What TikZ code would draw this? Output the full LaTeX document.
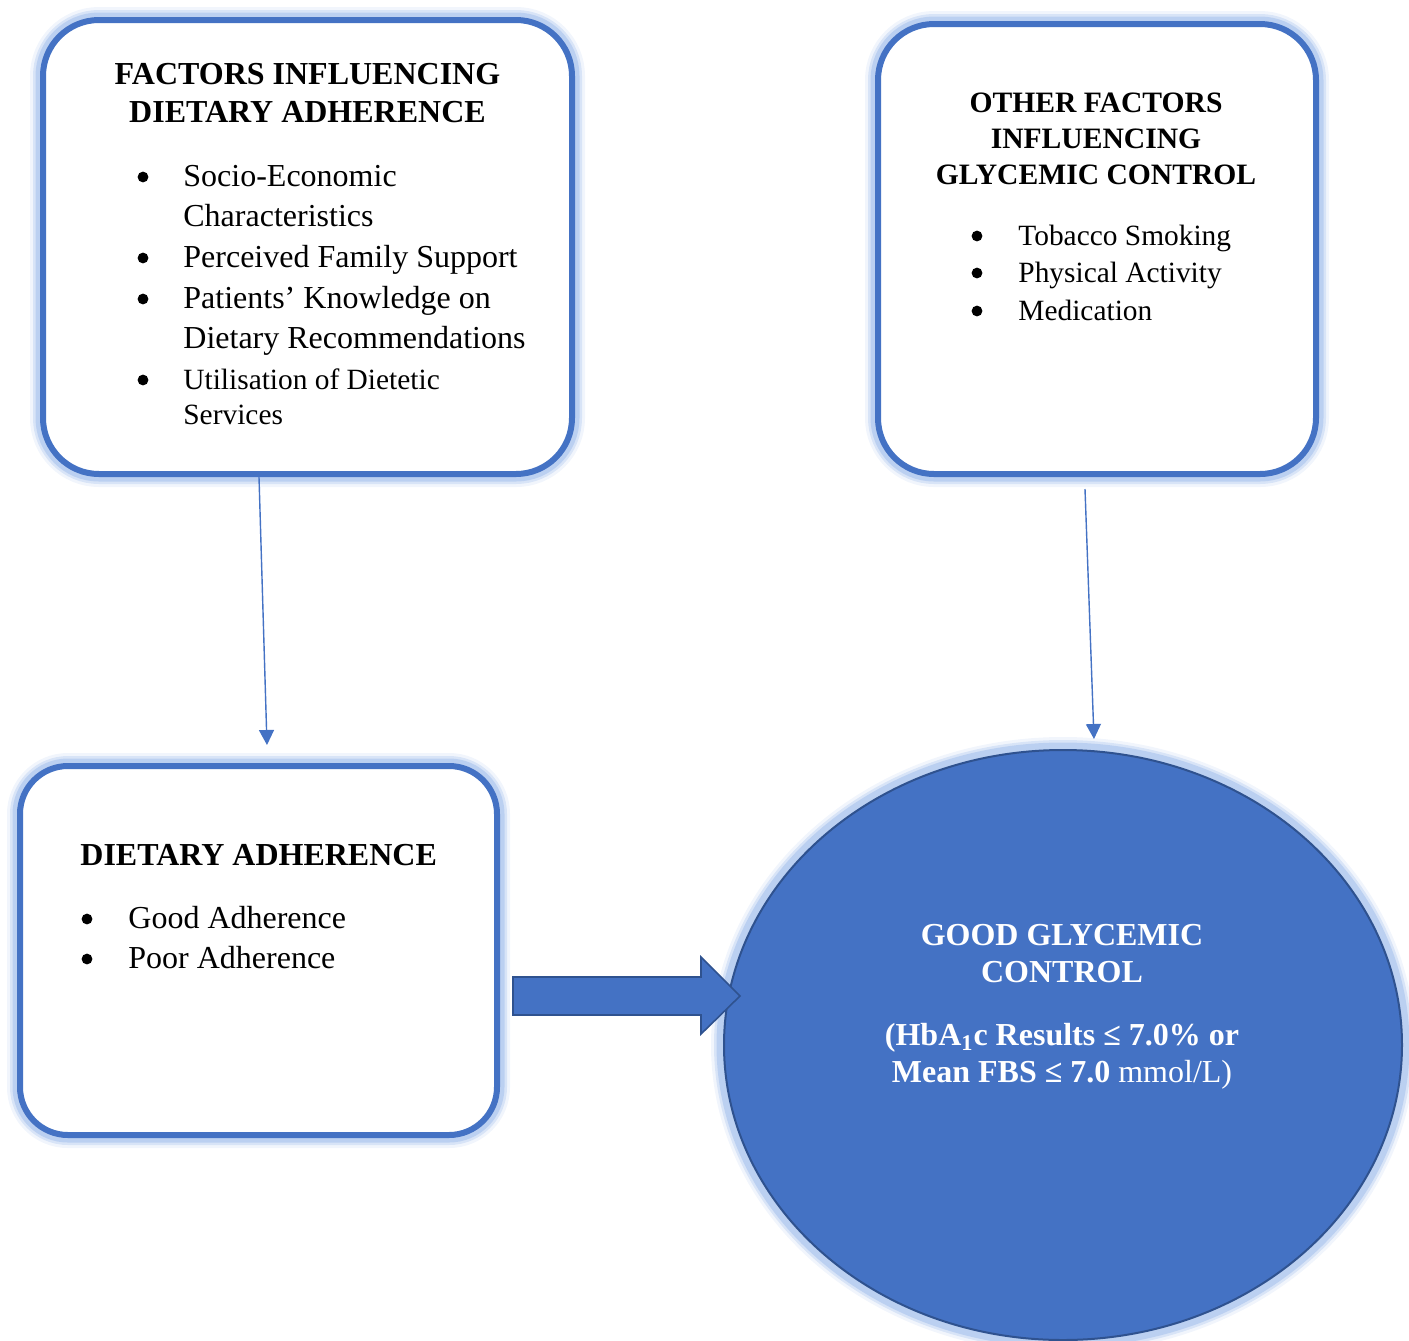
\documentclass[tikz,border=0pt]{standalone}
\usepackage{fontspec}
\setmainfont{Liberation Serif}
\usepackage{tikz}
\usetikzlibrary{positioning}
\usetikzlibrary{shapes.geometric}
\usetikzlibrary{arrows.meta}

\definecolor{wordblue}{HTML}{4472C4}
\definecolor{darkblue}{HTML}{2F528F}
\definecolor{glowblue}{HTML}{9FBCEB}

\tikzset{
	glow/.style={preaction={draw=glowblue,line width=13pt,opacity=0.15},
		preaction={draw=glowblue,line width=10pt,opacity=0.3},
		preaction={draw=glowblue,line width=7.5pt,opacity=0.5}},
	roundbox/.style={glow,draw=wordblue,line width=3pt,fill=white,inner sep=0pt},
	head/.style={font=\fontsize{16}{19}\selectfont\bfseries,anchor=base,inner sep=0pt},
	item/.style={font=\fontsize{16}{20}\selectfont,anchor=base west,inner sep=0pt},
	small/.style={font=\fontsize{14.7}{18}\selectfont},
	smallhead/.style={head,font=\fontsize{14.8}{18}\selectfont\bfseries},
	thinarrow/.style={draw=wordblue,line width=0.7pt,-{Triangle[width=7.5pt,length=7.5pt]}},
	bigarrow/.style={draw=darkblue,line width=0.8pt,fill=wordblue,line join=miter}
}

\begin{document}
\begin{tikzpicture}[x=0.5pt,y=-0.5pt]
		\useasboundingbox (0,0) rectangle (1409,1340);
		% boxes
		\node [roundbox,rounded corners=28pt,minimum width=264.5pt,minimum height=227pt] (factors) at (307.5,247) {};
		\node [roundbox,rounded corners=28pt,minimum width=219pt,minimum height=225pt] (other) at (1097,249) {};
		\node [roundbox,rounded corners=24pt,minimum width=238.5pt,minimum height=184.5pt] (adherence) at (258.5,950.5) {};
		\node [glow,ellipse,draw=darkblue,line width=1pt,fill=wordblue,inner sep=0pt,minimum width=339pt,minimum height=295pt] (control) at (1063,1045) {};
		% connectors
		\draw [thinarrow] ([xshift=-24.25pt]factors.south) -- ([xshift=4.25pt,yshift=9pt]adherence.north);
		\draw [thinarrow] ([xshift=-6pt,yshift=-6pt]other.south) -- ([xshift=15.5pt,yshift=5pt]control.north);
		\draw [bigarrow] ([xshift=6.5pt,yshift=-13.25pt]adherence.east) -- ++(188,0) -- ++(0,-20) -- ++(39,39) -- ++(-39,38) -- ++(0,-19) -- ++(-188,0) -- cycle;
		% factors influencing dietary adherence
		\node [head] (fa1) at (307.5,84) {FACTORS INFLUENCING};
		\node [head] (fa2) at (307.5,122) {DIETARY ADHERENCE};
		\node [item] (fa3) at (183,186) {Socio-Economic};
		\node [item] (fa4) at (183,226) {Characteristics};
		\node [item] (fa5) at (183,267) {Perceived Family Support};
		\node [item] (fa6) at (183,308) {Patients’ Knowledge on};
		\node [item] (fa7) at (183,348) {Dietary Recommendations};
		\node [item,small] (fa8) at (183,389) {Utilisation of Dietetic};
		\node [item,small] (fa9) at (183,424) {Services};
		\foreach \y in {186,267,308,389}
			\fill (143,\y-9) circle[radius=2.7pt];
		% other factors
		\node [smallhead] (of1) at (1096,112) {OTHER FACTORS};
		\node [smallhead] (of2) at (1096,148) {INFLUENCING};
		\node [smallhead] (of3) at (1096,184) {GLYCEMIC CONTROL};
		\node [item,small] (of4) at (1018,245) {Tobacco Smoking};
		\node [item,small] (of5) at (1018,282) {Physical Activity};
		\node [item,small] (of6) at (1018,320) {Medication};
		\foreach \y in {245,282,320}
			\fill (977,\y-9) circle[radius=2.7pt];
		% dietary adherence
		\node [head,anchor=base west] (da1) at (80,865) {DIETARY ADHERENCE};
		\node [item] (da2) at (128,928) {Good Adherence};
		\node [item] (da3) at (128,968) {Poor Adherence};
		\foreach \y in {928,968}
			\fill (87,\y-9) circle[radius=2.7pt];
		% good glycemic control
		\node [head,text=white] (gc1) at (1062,945) {GOOD GLYCEMIC};
		\node [head,text=white] (gc2) at (1062,982) {CONTROL};
		\node [head,text=white] (gc3) at (1062,1045) {(HbA\textsubscript{1}c Results ≤ 7.0\% or};
		\node [head,text=white] (gc4) at (1062,1082) {Mean FBS ≤ 7.0 \mdseries mmol/L)};
\end{tikzpicture}
\end{document}
